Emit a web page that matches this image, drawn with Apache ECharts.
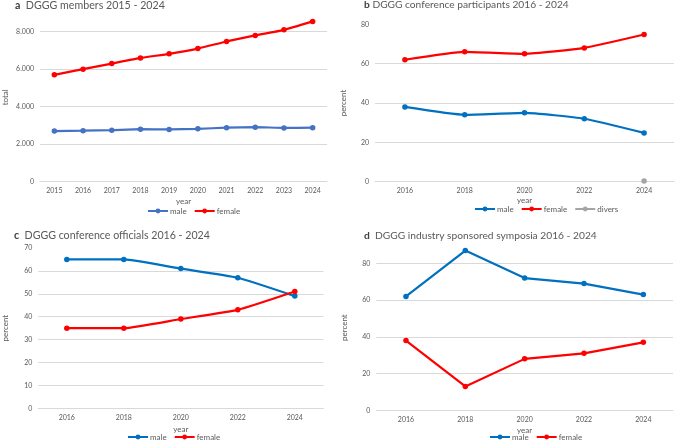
<!DOCTYPE html>
<html>
<head>
<meta charset="utf-8">
<script src="https://cdn.jsdelivr.net/npm/echarts@6/dist/echarts.min.js"></script>
<style>
html,body{margin:0;padding:0;background:#fff;}
#chart{width:677px;height:441px;}
</style>
</head>
<body>
<div id="chart"></div>
<script>
// ---- Data ----
const yearsA = ['2015','2016','2017','2018','2019','2020','2021','2022','2023','2024'];
const membersMale   = [2700, 2720, 2750, 2800, 2790, 2820, 2880, 2910, 2870, 2880];
const membersFemale = [5700, 6000, 6300, 6600, 6820, 7100, 7480, 7800, 8100, 8550];

const yearsB = ['2016','2018','2020','2022','2024'];
const participantsMale   = [38, 34, 35, 32, 24.8];
const participantsFemale = [62, 66, 65, 68, 74.8];
const participantsDivers = [null, null, null, null, 0.4];

const yearsC = ['2016','2018','2020','2022','2024'];
const officialsMale   = [65, 65, 61, 57, 49];
const officialsFemale = [35, 35, 39, 43, 51];

const yearsD = ['2016','2018','2020','2022','2024'];
const symposiaMale   = [62, 87, 72, 69, 63];
const symposiaFemale = [38, 13, 28, 31, 37];

const titleLetters = ['a', 'b', 'c', 'd'];
const titleTexts = [
  '  DGGG members 2015 - 2024',
  ' DGGG conference participants 2016 - 2024',
  '  DGGG conference officials 2016 - 2024',
  '  DGGG industry sponsored symposia 2016 - 2024'
];

// ---- Styles ----
const FONT = 'Lato';
const TXT = '#595959';
const GRIDC = '#D9D9D9';
const RED = '#FF0000';
const BLUE = '#0070C0';
const BLUE_A = '#4472C4';
const GREY = '#A5A5A5';

function fmtDE(v){ return String(v).replace(/\B(?=(\d{3})+(?!\d))/g, '.'); }

// title widths measured on the reference (layout only)
const titleTargetW = [150, 205, 196, 233];
const titlePos = [[15, 0], [364, 0], [14, 230], [364, 231]];
const ctx = document.createElement('canvas').getContext('2d');
function fitSize(letter, rest, target){
  ctx.font = 'bold 100px ' + FONT;
  const w1 = ctx.measureText(letter).width;
  ctx.font = 'normal 100px ' + FONT;
  const w2 = ctx.measureText(rest).width;
  return Math.max(9, Math.min(14, 100 * target / (w1 + w2)));
}

const grids = [
  {left: 36, top: 12.95, width: 291, height: 168.75},
  {left: 375, top: 24.3, width: 299, height: 157.4},
  {left: 38.3, top: 248, width: 285, height: 160.3},
  {left: 376.3, top: 245, width: 296.7, height: 165.3}
];

const cats = [yearsA, yearsB, yearsC, yearsD];
const yCfg = [
  {min:0, max:9000, interval:2000, name:'total', gap:31, fmt: fmtDE},
  {min:0, max:80, interval:20, name:'percent', gap:28, fmt: null},
  {min:0, max:70, interval:10, name:'percent', gap:29, fmt: null},
  {min:0, max:90, interval:20, name:'percent', gap:28, fmt: null}
];
const xNameGap = [16, 15, 17, 16];

const option = {
  animation: false,
  backgroundColor: '#fff',
  title: titleLetters.map((l, i) => {
    const fs = fitSize(l, titleTexts[i], titleTargetW[i]);
    return {
      text: '{b|' + l + '}' + titleTexts[i],
      left: titlePos[i][0], top: titlePos[i][1], padding: 0,
      textStyle: {fontFamily: FONT, fontSize: fs, fontWeight: 'normal', color: TXT,
        rich: {b: {fontFamily: FONT, fontSize: fs, fontWeight: 'bold', color: '#404040'}}}
    };
  }),
  grid: grids.map(g => Object.assign({containLabel: false}, g)),
  xAxis: cats.map((c, i) => ({
    type: 'category', gridIndex: i, data: c, boundaryGap: true,
    name: 'year', nameLocation: 'middle', nameGap: xNameGap[i],
    nameTextStyle: {fontFamily: FONT, fontSize: 8, color: TXT},
    axisLine: {show: true, lineStyle: {color: GRIDC, width: 1}},
    axisTick: {show: false},
    axisLabel: {fontFamily: FONT, fontSize: 7, color: TXT, margin: 6}
  })),
  yAxis: yCfg.map((y, i) => ({
    type: 'value', gridIndex: i, min: y.min, max: y.max, interval: y.interval,
    name: y.name, nameLocation: 'middle', nameGap: y.gap, nameRotate: 90,
    nameTextStyle: {fontFamily: FONT, fontSize: 8, color: TXT},
    axisLine: {show: false}, axisTick: {show: false},
    splitLine: {show: true, showMaxLine: false, lineStyle: {color: GRIDC, width: 1}},
    axisLabel: {fontFamily: FONT, fontSize: 7, color: TXT, margin: 6, showMaxLabel: (y.max % y.interval === 0),
      formatter: y.fmt || undefined}
  })),
  legend: [
    {data: ['a|male', 'a|female'], left: 147, top: 207},
    {data: ['b|male', 'b|female', 'b|divers'], left: 474, top: 205},
    {data: ['c|male', 'c|female'], left: 127, top: 433},
    {data: ['d|male', 'd|female'], left: 489, top: 433}
  ].map(l => Object.assign({
    orient: 'horizontal', itemWidth: 20, itemHeight: 6, itemGap: 7, padding: 0,
    formatter: n => n.split('|')[1], selectedMode: false,
    textStyle: {fontFamily: FONT, fontSize: 8, color: TXT, padding: [0, 0, 0, -3]}
  }, l)),
  series: []
};

function line(name, idx, data, color, smooth){
  return {
    name: name, type: 'line', xAxisIndex: idx, yAxisIndex: idx, data: data,
    symbol: 'circle', symbolSize: 5.5, smooth: smooth || false,
    connectNulls: false,
    lineStyle: {color: color, width: 2.2},
    itemStyle: {color: color}
  };
}

option.series.push(line('a|male', 0, membersMale, BLUE_A, 0.15));
option.series.push(line('a|female', 0, membersFemale, RED, 0.15));
option.series.push(line('b|male', 1, participantsMale, BLUE, 0.15));
option.series.push(line('b|female', 1, participantsFemale, RED, 0.15));
option.series.push(line('b|divers', 1, participantsDivers, GREY, 0.15));
option.series.push(line('c|male', 2, officialsMale, BLUE, 0.15));
option.series.push(line('c|female', 2, officialsFemale, RED, 0.15));
option.series.push(line('d|male', 3, symposiaMale, BLUE, false));
option.series.push(line('d|female', 3, symposiaFemale, RED, false));

const chart = echarts.init(document.getElementById('chart'), null, {renderer: 'canvas'});
chart.setOption(option);
</script>
</body>
</html>
